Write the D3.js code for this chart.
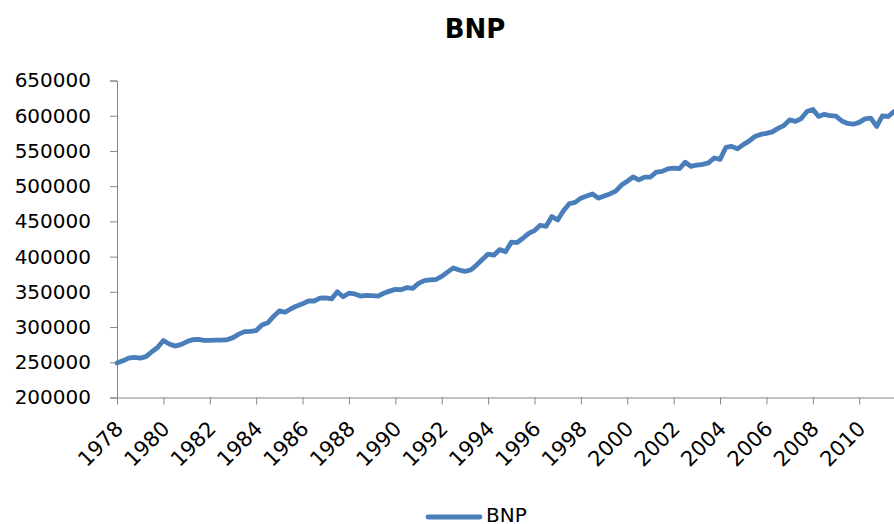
<!DOCTYPE html>
<html>
<head>
<meta charset="utf-8">
<script src="https://cdn.jsdelivr.net/npm/d3@7"></script>
<style>
  body { margin: 0; background: #fff; }
  svg { display: block; }
  text { font-family: "DejaVu Sans", sans-serif; fill: #000; }
</style>
</head>
<body>
<div class="svg-container"></div>
<script>
// quarterly BNP, 1978 Q1 .. 2011 Q3
const startYear = 1978;
const bnp = [
  249000, 252000, 256000, 257000, 256000, 258000, 265000, 271000,
  281000, 276000, 273000, 275000, 279000, 282000, 282500, 281000,
  281000, 281500, 281500, 282000, 285000, 290000, 293500, 294000,
  295000, 303000, 306000, 315000, 323000, 321000, 326000, 330000,
  333000, 337000, 337000, 341000, 341500, 340000, 350000, 343000,
  348000, 347000, 344000, 345000, 344500, 344000, 348000, 351000,
  353500, 353000, 356000, 355000, 362000, 366000, 367000, 367500,
  372000, 378000, 384000, 381000, 379000, 381000, 388000, 396000,
  403500, 402000, 410000, 407000, 420500, 420000, 426000, 433000,
  437000, 444500, 443000, 457000, 452000, 465000, 475000, 477000,
  483000, 486000, 489000, 483000, 486000, 489000, 493000, 501500,
  507000, 513000, 509000, 512800, 513000, 520000, 521000, 524500,
  525500, 525000, 534000, 528000, 530000, 531000, 533000, 540000,
  538000, 555000, 556500, 553000, 559000, 564000, 570500, 573500,
  575000, 577000, 582000, 586000, 594000, 592000, 596000, 606000,
  609000, 599000, 602000, 600000, 599500, 592500, 589000, 588000,
  590500, 595500, 596500, 584700, 599900, 598900, 606000
];
const yTicks = [200000, 250000, 300000, 350000, 400000, 450000, 500000, 550000, 600000, 650000];
const xTickYears = [1978, 1980, 1982, 1984, 1986, 1988, 1990, 1992, 1994, 1996, 1998, 2000, 2002, 2004, 2006, 2008, 2010];
const seriesName = "BNP";

const W = 894, H = 524;
const plotLeft = 117, plotRight = 894, plotTop = 80.5, plotBottom = 397.5;
const axisColor = "#868686";
const lineColor = "#4a7ebb";

const svg = d3.select(".svg-container").append("svg")
  .attr("width", W).attr("height", H);

const x = d3.scaleLinear().domain([0, bnp.length - 1]).range([plotLeft, plotRight]);
const y = d3.scaleLinear().domain([200000, 650000]).range([plotBottom, plotTop]);

// title
svg.append("text")
  .attr("x", 475).attr("y", 38)
  .attr("text-anchor", "middle")
  .style("font-size", "26px").style("font-weight", "bold")
  .text(seriesName);

// y axis
const yAxis = svg.append("g")
  .attr("transform", `translate(${plotLeft},0)`)
  .call(d3.axisLeft(y).tickValues(yTicks).tickSize(7).tickPadding(19).tickFormat(d3.format("d")));
yAxis.selectAll("line, path").attr("stroke", axisColor);
yAxis.selectAll("text").style("font-size", "20px").style("font-family", "DejaVu Sans");

// x axis
const xIdx = xTickYears.map(yr => (yr - startYear) * 4);
const xAxis = svg.append("g")
  .attr("transform", `translate(0,${plotBottom})`)
  .call(d3.axisBottom(x).tickValues(xIdx).tickSize(7).tickSizeOuter(0)
    .tickFormat(i => startYear + i / 4));
xAxis.select("path").attr("stroke", axisColor);
xAxis.selectAll("line").attr("stroke", axisColor);
xAxis.selectAll("text")
  .style("font-size", "21px").style("font-family", "DejaVu Sans")
  .attr("text-anchor", "end")
  .attr("dy", null)
  .attr("y", 0)
  .attr("transform", "translate(7,32.5) rotate(-45)");

// line
const line = d3.line().x((d, i) => x(i)).y(d => y(d));
svg.append("path")
  .datum(bnp)
  .attr("fill", "none")
  .attr("stroke", lineColor)
  .attr("stroke-width", 4.8)
  .attr("stroke-linejoin", "round")
  .attr("stroke-linecap", "round")
  .attr("d", line);

// legend
svg.append("line")
  .attr("x1", 428).attr("x2", 480).attr("y1", 517).attr("y2", 517)
  .attr("stroke", lineColor).attr("stroke-width", 4.8).attr("stroke-linecap", "round");
svg.append("text")
  .attr("x", 486).attr("y", 522)
  .style("font-size", "20px")
  .text(seriesName);
</script>
</body>
</html>
